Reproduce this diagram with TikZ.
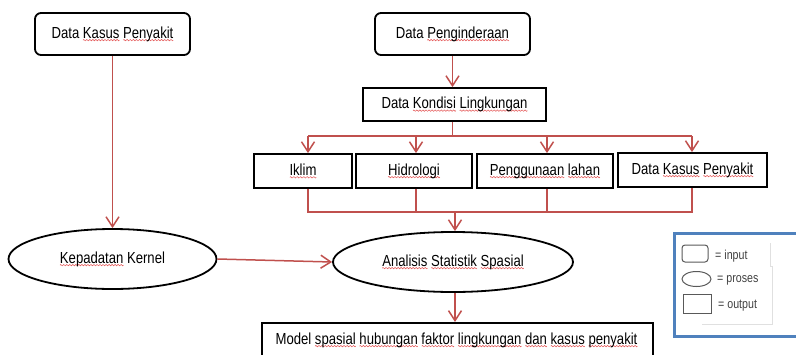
\documentclass[tikz,border=0pt]{standalone}
\usepackage{fontspec}
\setmainfont[FakeStretch=0.82]{Liberation Sans}
\usetikzlibrary{arrows.meta,shapes.geometric}
\definecolor{flow}{HTML}{C0504D}
\definecolor{frameblue}{HTML}{4F81BD}
\definecolor{squig}{HTML}{E35050}
% one period of the wavy underline, repeated under a word
\newsavebox\wavebox
\newcommand\spl[1]{\setbox0\hbox{#1}\leavevmode
  \rlap{\raisebox{-3pt}{\hbox to\wd0{\xleaders\copy\wavebox\hfil}}}\box0\relax}
\begin{document}
\begin{tikzpicture}[x=1pt,y=-1pt,
  font=\fontsize{16}{19}\selectfont,
  inbox/.style={draw=black,line width=1.8pt,rounded corners=6pt,inner sep=0pt,fill=white},
  outbox/.style={draw=black,line width=1.8pt,inner sep=0pt,fill=white},
  procell/.style={draw=black,line width=1.8pt,ellipse,inner sep=0pt,fill=white},
  flowline/.style={draw=flow,line width=1.5pt},
  flowarrow/.style={flowline,-{Straight Barb[length=10pt,width=13pt,line width=1.5pt]}},
  keyshape/.style={draw=black!65,line width=1pt,inner sep=0pt},
  keytext/.style={font=\fontsize{13}{15}\selectfont,text=black!75,anchor=west,inner sep=0pt}]
\sbox\wavebox{\tikz{\useasboundingbox (0pt,-1pt) rectangle (3pt,1pt);
  \draw[squig,line width=0.5pt] (0pt,0pt) sin (0.75pt,0.7pt) cos (1.5pt,0pt) sin (2.25pt,-0.7pt) cos (3pt,0pt);}}
\useasboundingbox (0,0) rectangle (796,353);
\clip (0,0) rectangle (796,353);

% input boxes
\node[inbox,minimum width=155,minimum height=42] (kasusA) at (112.5,33)
  {Data \spl{Kasus} \spl{Penyakit}};
\node[inbox,minimum width=155,minimum height=42] (indera) at (452.5,33)
  {Data \spl{Penginderaan}};

% environmental data
\node[outbox,minimum width=183,minimum height=33] (kondisi) at (454.5,103.5)
  {Data \spl{Kondisi} \spl{Lingkungan}};
\node[outbox,minimum width=98,minimum height=34] (iklim) at (303,170) {\spl{Iklim}};
\node[outbox,minimum width=116,minimum height=34] (hidro) at (414,170) {\spl{Hidrologi}};
\node[outbox,minimum width=136,minimum height=34] (lahan) at (545,170) {\spl{Penggunaan} \spl{lahan}};
\node[outbox,minimum width=149,minimum height=34] (kasusB) at (692.5,169) {Data \spl{Kasus} \spl{Penyakit}};

% processes
\node[procell,minimum width=208,minimum height=60] (kernel) at (112.5,258)
  {\spl{Kepadatan} Kernel};
\node[procell,minimum width=240,minimum height=60] (analisis) at (453,261)
  {\spl{Analisis} \spl{Statistik} \spl{Spasial}};

% output
\node[outbox,minimum width=391,minimum height=37,anchor=north west] (model) at (261,321) {};
\node[inner sep=0pt] (modeltext) at (456.5,339)
  {Model \spl{spasial} \spl{hubungan} \spl{faktor} \spl{lingkungan} \spl{dan} \spl{kasus} \spl{penyakit}};

% branch positions
\coordinate (t1) at (308,135);
\coordinate (t2) at (416,135);
\coordinate (t3) at (547,135);
\coordinate (t4) at (692,135);
\coordinate (b1) at (308,211);
\coordinate (b2) at (416,211);
\coordinate (b3) at (547,211);
\coordinate (b4) at (692,211);
\coordinate (bm) at (455,211);

% connectors
\draw[flowarrow] (kasusA.south) -- (kernel.north);
\draw[flowarrow] (indera.south) -- (indera.south |- kondisi.north);
\draw[flowline] (indera.south |- kondisi.south) -- (indera.south |- t1);
\draw[flowline] (t1) -- (t4);
\draw[flowarrow] (t1) -- (t1 |- iklim.north);
\draw[flowarrow] (t2) -- (t2 |- hidro.north);
\draw[flowarrow] (t3) -- (t3 |- lahan.north);
\draw[flowarrow] (t4) -- (t4 |- kasusB.north);
\draw[flowline] (b1 |- iklim.south) -- (b1) -- (b4) -- (b4 |- kasusB.south);
\draw[flowline] (b2 |- hidro.south) -- (b2);
\draw[flowline] (b3 |- lahan.south) -- (b3);
\draw[flowarrow] (bm) -- (bm |- analisis.north);
\draw[flowarrow] (kernel.east) -- (analisis.west);
\draw[flowarrow] (bm |- analisis.south) -- (bm |- model.north);

% key
\draw[frameblue,line width=3pt] (674,232) rectangle (806,335);
\draw[black!12,line width=0.6pt] (702,323) -- (772,323) -- (772,265) -- (770,265) -- (770,242);
\node[keyshape,rounded corners=3pt,minimum width=26,minimum height=17] (keyin) at (695,252.5) {};
\node[keyshape,ellipse,minimum width=29,minimum height=15] (keypro) at (696.5,278) {};
\node[keyshape,minimum width=28,minimum height=19] (keyout) at (697,302.5) {};
\node[keytext] (keyintext) at (715,255) {= input};
\node[keytext] (keyprotext) at (717,279.5) {= proses};
\node[keytext] (keyouttext) at (718,305) {= output};
\end{tikzpicture}
\end{document}
